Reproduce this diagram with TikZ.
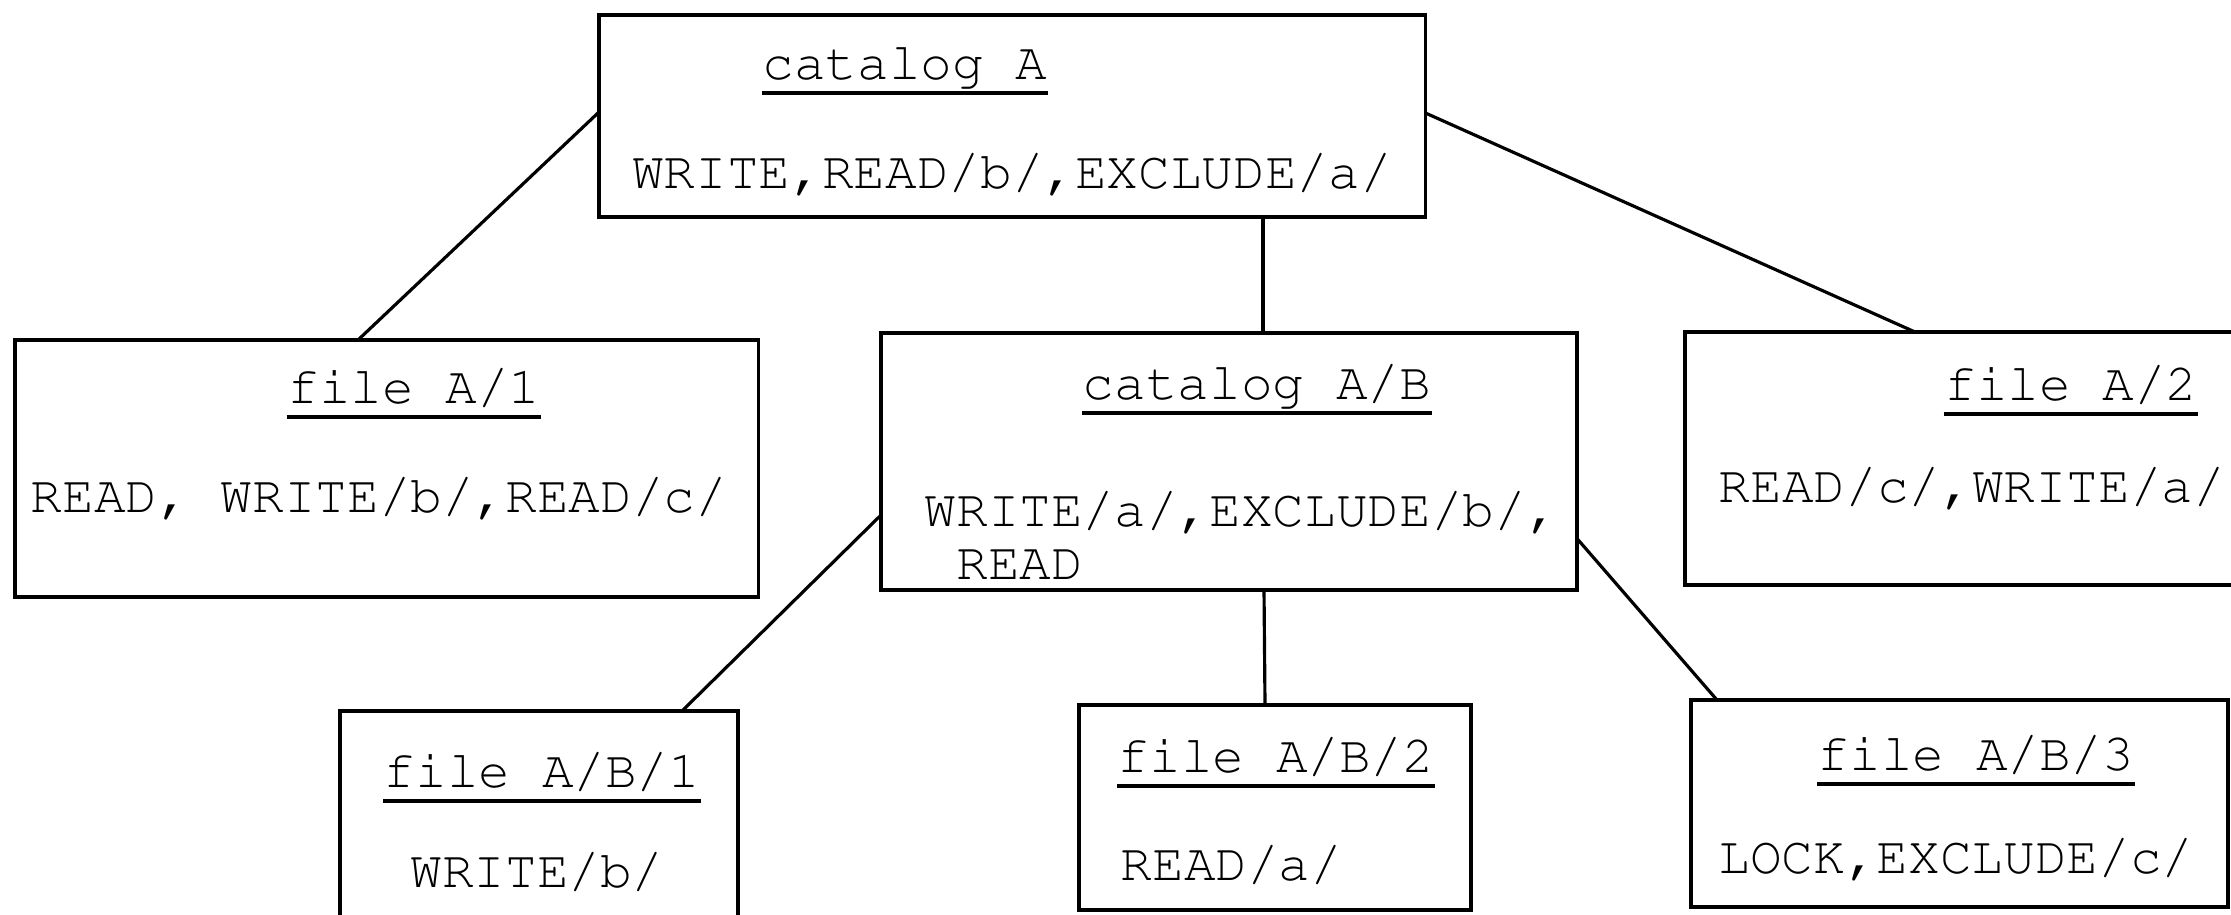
\documentclass[tikz,border=0pt]{standalone}
\usepackage[T1]{fontenc}
\usepackage{courier}
\usetikzlibrary{calc}
\tikzset{
    box/.style = {draw, rectangle, line width=1.1pt,
        inner sep=0pt, outer sep=0pt, anchor=north west},
    rights/.style = {font=\ttfamily\fontsize{15}{15}\selectfont,
        inner sep=0pt, anchor=base},
    heading/.style = {rights,
        append after command={([yshift=-1.4mm]\tikzlastnode.base west)
            edge[line width=1.1pt] ([yshift=-1.4mm]\tikzlastnode.base east)}},
    link/.style = {draw, line width=0.9pt}
}

\begin{document}
\begin{tikzpicture}[x=0.01cm, y=-0.01cm]
    \clip (0,0) rectangle (2231,914);
    \node[box, minimum width=8.26cm, minimum height=2.02cm] (catA) at (599,15) {};
    \node[box, minimum width=7.43cm, minimum height=2.57cm] (fA1) at (15,340) {};
    \node[box, minimum width=6.96cm, minimum height=2.57cm] (catAB) at (881,333) {};
    \node[box, minimum width=5.75cm, minimum height=2.53cm] (fA2) at (1685,332) {};
    \node[box, minimum width=3.98cm, minimum height=2.40cm] (fAB1) at (340,711) {};
    \node[box, minimum width=3.92cm, minimum height=2.05cm] (fAB2) at (1079,705) {};
    \node[box, minimum width=5.37cm, minimum height=2.07cm] (fAB3) at (1691,700) {};

    \node[heading] (catAt) at (905,79) {catalog A};
    \node[rights] (catAr) at (1012,188) {WRITE,READ/b/,EXCLUDE/a/};
    \node[heading] (fA1t) at (414,403) {file A/1};
    \node[rights] (fA1r) at (379,512) {READ, WRITE/b/,READ/c/};
    \node[heading] (catABt) at (1257,399) {catalog A/B};
    \node[rights, anchor=base west, align=left] (catABr) at (924,579) {WRITE/a/,EXCLUDE/b/,\\~READ};
    \node[heading] (fA2t) at (2071,400) {file A/2};
    \node[rights] (fA2r) at (1972,502) {READ/c/,WRITE/a/};
    \node[heading] (fAB1t) at (542,787) {file A/B/1};
    \node[rights] (fAB1r) at (537,887) {WRITE/b/};
    \node[heading] (fAB2t) at (1276,772) {file A/B/2};
    \node[rights, anchor=base west] (fAB2r) at (1120,880) {READ/a/};
    \node[heading] (fAB3t) at (1976,770) {file A/B/3};
    \node[rights] (fAB3r) at (1956,873) {LOCK,EXCLUDE/c/};

    \draw[link] ($(catA.north west)+(0,97)$) -- ($(fA1.north west)+(343,0)$);
    \draw[link] ($(catA.south west)+(664,0)$) -- ($(catAB.north west)+(382,0)$);
    \draw[link] ($(catA.north east)+(0,98)$) -- ($(fA2.north west)+(230,0)$);
    \draw[link] ($(catAB.north west)+(0,182)$) -- ($(fAB1.north west)+(342,0)$);
    \draw[link] ($(catAB.south west)+(383,0)$) -- ($(fAB2.north west)+(186,0)$);
    \draw[link] ($(catAB.north east)+(0,206)$) -- ($(fAB3.north west)+(26,0)$);
\end{tikzpicture}
\end{document}
